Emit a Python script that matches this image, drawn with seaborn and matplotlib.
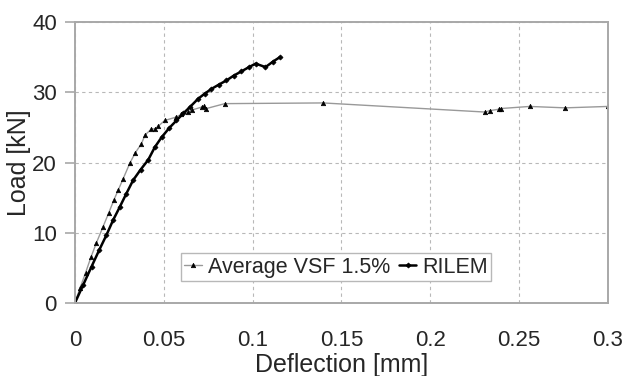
import matplotlib
matplotlib.use("Agg")
import matplotlib.pyplot as plt
import seaborn as sns
import pandas as pd

vsf_x = [0, 0.003, 0.006, 0.009, 0.012, 0.0159, 0.019, 0.022, 0.0244, 0.027, 0.0309,
         0.034, 0.0375, 0.0394, 0.0431, 0.045, 0.047, 0.0506, 0.0572, 0.060, 0.0638,
         0.066, 0.0713, 0.0725, 0.074, 0.0844, 0.1397, 0.231, 0.2335, 0.2387, 0.2397,
         0.256, 0.276, 0.30]
vsf_y = [0, 2.2, 4.3, 6.5, 8.5, 10.9, 12.8, 14.7, 16.1, 17.6, 19.9,
         21.4, 22.7, 23.9, 24.8, 24.8, 25.2, 26.0, 26.5, 26.9, 27.2,
         27.5, 27.9, 28.0, 27.7, 28.4, 28.5, 27.2, 27.4, 27.6, 27.7,
         28.0, 27.8, 28.0]

rilem_x = [0, 0.0047, 0.0094, 0.0136, 0.0178, 0.0215, 0.0253, 0.029, 0.0328, 0.037,
           0.0413, 0.045, 0.0488, 0.053, 0.0572, 0.061, 0.0647, 0.0694, 0.073, 0.0769,
           0.081, 0.0853, 0.0895, 0.0938, 0.098, 0.1018, 0.1073, 0.1116, 0.1153]
rilem_y = [0, 2.6, 5.2, 7.5, 9.7, 11.8, 13.7, 15.6, 17.5, 19.0,
           20.4, 22.2, 23.6, 24.9, 26.0, 27.0, 27.9, 29.1, 29.8, 30.5,
           31.1, 31.7, 32.4, 33.0, 33.6, 34.1, 33.6, 34.4, 35.0]

labels = ["Average VSF 1.5%", "RILEM"]
x_ticks = [0, 0.05, 0.1, 0.15, 0.2, 0.25, 0.3]
x_tick_labels = ["0", "0.05", "0.1", "0.15", "0.2", "0.25", "0.3"]
y_ticks = [0, 10, 20, 30, 40]

sns.set_style("white")
plt.rcParams["font.family"] = ["Liberation Sans", "DejaVu Sans"]
FS_TICK = 16
FS_LEG = 15.5
FS_LAB = 18

fig = plt.figure(figsize=(6.24, 3.76), dpi=100)
ax = fig.add_axes([0.120, 0.194, 0.854, 0.747])

df_v = pd.DataFrame({"x": vsf_x, "y": vsf_y})
df_r = pd.DataFrame({"x": rilem_x, "y": rilem_y})

sns.lineplot(data=df_v, x="x", y="y", sort=False, ax=ax, color="#999999", lw=1.0,
             marker="^", markersize=3.2, markerfacecolor="black", markeredgecolor="black",
             markeredgewidth=0.5, label=labels[0])
sns.lineplot(data=df_r, x="x", y="y", sort=False, ax=ax, color="black", lw=1.8,
             marker="D", markersize=2.6, markerfacecolor="black", markeredgecolor="black",
             markeredgewidth=0.5, label=labels[1])

ax.set_xlim(0, 0.3)
ax.set_ylim(0, 40)
ax.set_xticks(x_ticks)
ax.set_xticklabels(x_tick_labels)
ax.set_yticks(y_ticks)

ax.grid(True, linestyle=(0, (3, 3)), color="#b8b8b8", lw=0.8)
for s in ax.spines.values():
    s.set_visible(True)
    s.set_color("#a8a8a8")
    s.set_linewidth(1.4)

ax.tick_params(axis="y", which="both", left=True, length=7, width=1.2, color="#a8a8a8",
               labelsize=FS_TICK, pad=6)
ax.tick_params(axis="x", bottom=False, labelsize=FS_TICK, pad=16)

ax.set_xlabel("Deflection [mm]", fontsize=FS_LAB, labelpad=1)
ax.set_ylabel("Load [kN]", fontsize=FS_LAB)
ax.yaxis.set_label_coords(-0.082, 0.5)

leg = ax.legend(loc="center", bbox_to_anchor=(0.4906, 0.128), ncol=2, fontsize=FS_LEG,
                frameon=True, fancybox=False, edgecolor="#b8b8b8", framealpha=1,
                handlelength=0.8, handletextpad=0.3, columnspacing=0.4,
                borderpad=0.15, borderaxespad=0)
leg.get_frame().set_linewidth(1.0)

fig.savefig("out.png", dpi=100)
